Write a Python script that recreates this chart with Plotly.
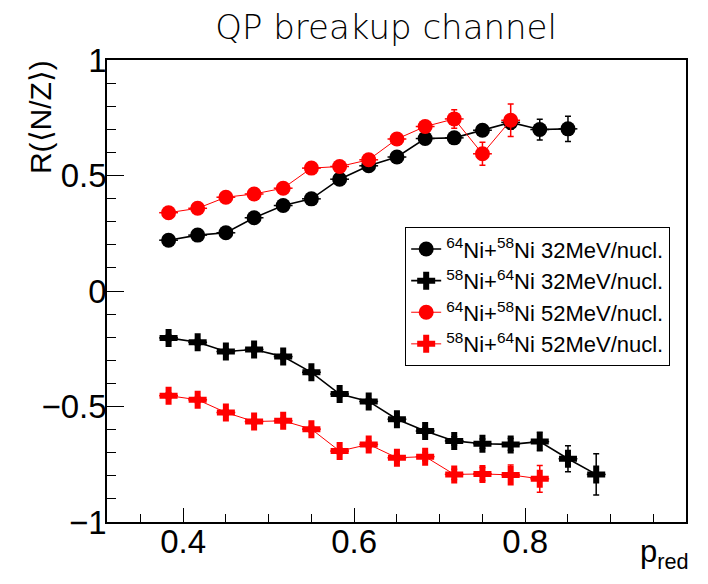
import plotly.graph_objects as go

# ---- data ----
x_all = [0.383, 0.417, 0.450, 0.483, 0.517, 0.550, 0.583, 0.617,
         0.650, 0.683, 0.717, 0.750, 0.783, 0.817, 0.850, 0.883]

# 64Ni+58Ni 32 MeV/nucl. (black circles)
y_c32 = [0.220, 0.242, 0.252, 0.317, 0.370, 0.399, 0.484, 0.542,
         0.580, 0.660, 0.663, 0.696, 0.730, 0.699, 0.702]
e_c32 = [0.012, 0.012, 0.012, 0.012, 0.012, 0.012, 0.012, 0.012,
         0.012, 0.015, 0.018, 0.022, 0.030, 0.045, 0.055]

# 58Ni+64Ni 32 MeV/nucl. (black crosses)
y_x32 = [-0.203, -0.222, -0.262, -0.253, -0.284, -0.352, -0.446, -0.478,
         -0.555, -0.606, -0.649, -0.661, -0.664, -0.652, -0.726, -0.794]
e_x32 = [0.012, 0.012, 0.012, 0.012, 0.012, 0.012, 0.012, 0.012,
         0.012, 0.015, 0.018, 0.020, 0.025, 0.040, 0.056, 0.089]

# 64Ni+58Ni 52 MeV/nucl. (red circles)
y_c52 = [0.339, 0.358, 0.406, 0.420, 0.445, 0.532, 0.539, 0.568,
         0.658, 0.712, 0.745, 0.594, 0.739]
e_c52 = [0.012, 0.012, 0.012, 0.012, 0.012, 0.012, 0.012, 0.015,
         0.018, 0.022, 0.040, 0.050, 0.070]

# 58Ni+64Ni 52 MeV/nucl. (red crosses)
y_x52 = [-0.453, -0.471, -0.526, -0.565, -0.562, -0.598, -0.693, -0.664,
         -0.722, -0.717, -0.794, -0.792, -0.796, -0.813]
e_x52 = [0.012, 0.012, 0.012, 0.012, 0.012, 0.012, 0.012, 0.015,
         0.015, 0.018, 0.022, 0.028, 0.043, 0.058]

names = ["<sup>64</sup>Ni+<sup>58</sup>Ni 32MeV/nucl.",
         "<sup>58</sup>Ni+<sup>64</sup>Ni 32MeV/nucl.",
         "<sup>64</sup>Ni+<sup>58</sup>Ni 52MeV/nucl.",
         "<sup>58</sup>Ni+<sup>64</sup>Ni 52MeV/nucl."]

x_ticks = [0.4, 0.6, 0.8]
y_ticks = [-1, -0.5, 0, 0.5, 1]
y_ticklabels = ["\u22121", "\u22120.5", "0", "0.5", "1"]

# ---- figure ----
fig = go.Figure()

series = [
    (y_c32, e_c32, "circle", "black", 15, 1.6),
    (y_x32, e_x32, "cross", "black", 15, 1.6),
    (y_c52, e_c52, "circle", "#ff0000", 15, 1.0),
    (y_x52, e_x52, "cross", "#ff0000", 15, 1.0),
]
for (ys, es, sym, col, sz, lw), nm in zip(series, names):
    xs = x_all[:len(ys)]
    fig.add_trace(go.Scatter(
        x=xs, y=ys, name=nm, mode="lines+markers",
        line=dict(color=col, width=lw),
        marker=dict(symbol=sym, size=sz, color=col, line=dict(width=0)),
        error_y=dict(type="data", array=es, color=col, thickness=1.5, width=3),
        error_x=dict(type="constant", value=0.011, color=col, thickness=1.5, width=0),
    ))

axis_font = dict(family="Liberation Sans, Arial, sans-serif", size=33, color="black")

fig.update_layout(
    width=708, height=584,
    margin=dict(l=99, r=30, t=52, b=70, autoexpand=False),
    paper_bgcolor="white", plot_bgcolor="white",
    showlegend=True,
    title=dict(text="QP breakup channel", x=0.534, xanchor="center",
               y=0.968, yanchor="middle",
               font=dict(family="DejaVu Sans, sans-serif", size=34, color="#000000", weight=200)),
    legend=dict(x=0.515, y=0.638, xanchor="left", yanchor="top",
                bgcolor="white", bordercolor="black", borderwidth=1,
                font=dict(family="Liberation Sans, Arial, sans-serif", size=22, color="black"),
                tracegroupgap=0, itemwidth=30),
    xaxis=dict(range=[0.311, 0.988], showgrid=False, zeroline=False, automargin=False,
               showline=True, linecolor="black", linewidth=1.5, mirror=True,
               ticks="inside", ticklen=14, tickcolor="black", tickwidth=1.2,
               tickvals=x_ticks, ticktext=[f"{v:.1f}" for v in x_ticks],
               tickfont=axis_font, ticklabelstandoff=-10,
               minor=dict(dtick=0.05, tick0=0.0, ticks="inside", ticklen=8,
                          tickcolor="black", tickwidth=1.2, showgrid=False)),
    yaxis=dict(range=[-1, 1], showgrid=False, zeroline=False, automargin=False,
               showline=True, linecolor="black", linewidth=1.5, mirror=True,
               ticks="inside", ticklen=17, tickcolor="black", tickwidth=1.2,
               tickvals=y_ticks, ticktext=y_ticklabels,
               tickfont=axis_font, ticklabelstandoff=-8,
               minor=dict(dtick=0.1, tick0=0.0, ticks="inside", ticklen=9,
                          tickcolor="black", tickwidth=1.2, showgrid=False)),
)

fig.add_annotation(text="R(\u27e8N/Z\u27e9)", xref="paper", yref="paper",
                   x=-0.116, y=0.876, xanchor="center", yanchor="middle",
                   textangle=-90, showarrow=False,
                   font=dict(family="Liberation Sans, Arial, sans-serif", size=30, color="black"))
fig.add_annotation(text="p<sub>red</sub>", xref="paper", yref="paper",
                   x=1.008, y=-0.022, xanchor="right", yanchor="top",
                   showarrow=False,
                   font=dict(family="Liberation Sans, Arial, sans-serif", size=31, color="black"))

fig.write_html("out.html")
